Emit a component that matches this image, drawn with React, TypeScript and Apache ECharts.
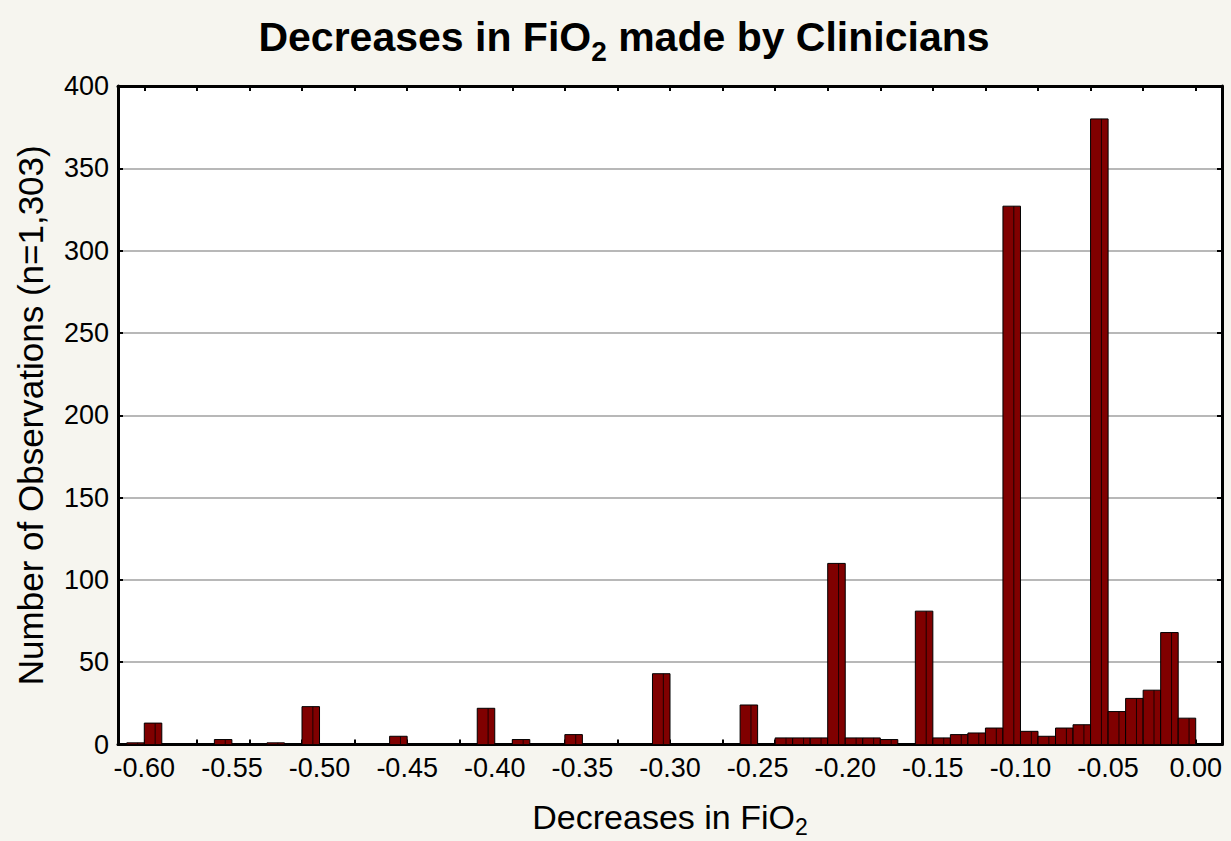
import React, { useEffect, useRef } from "react";
import * as echarts from "echarts";

// Histogram bins (left edge of each 0.01-wide bin) and their counts
const binLeft = [
  -0.61, -0.6, -0.56, -0.53, -0.51, -0.46, -0.41, -0.39, -0.36, -0.31,
  -0.26, -0.24, -0.23, -0.22, -0.21, -0.2, -0.19, -0.18, -0.16, -0.15,
  -0.14, -0.13, -0.12, -0.11, -0.1, -0.09, -0.08, -0.07, -0.06, -0.05,
  -0.04, -0.03, -0.02, -0.01,
];
const counts = [
  1, 13, 3, 1, 23, 5, 22, 3, 6, 43,
  24, 4, 4, 4, 110, 4, 4, 3, 81, 4,
  6, 7, 10, 327, 8, 5, 10, 12, 380, 20,
  28, 33, 68, 16,
];
const binWidth = 0.01;

const xMin = -0.615;
const xMax = 0.015;
const yMin = 0;
const yMax = 400;
const yStep = 50;

const titleText = "{a|Decreases in FiO}{s|2}{a| made by Clinicians}";
const xName = "{a|Decreases in FiO}{s|2}";
const yName = "Number of Observations (n=1,303)";

const FONT = "'Liberation Sans', Arial, Helvetica, sans-serif";

const frameLine = { show: true, onZero: false, lineStyle: { color: "#000", width: 3 } };
const innerTick = { show: true, inside: true, length: 5, lineStyle: { color: "#000", width: 2 } };

export default function App() {
  const ref = useRef<HTMLDivElement>(null);

  useEffect(() => {
    if (!ref.current) return;
    const chart = echarts.init(ref.current, null, { renderer: "svg" });
    const data = binLeft.map((l, i) => [l, l + binWidth, counts[i]]);

    const minorTickAxis = (position: "top" | "bottom", withLine: boolean) => ({
      type: "value",
      position,
      min: xMin,
      max: xMax,
      splitNumber: 21,
      minInterval: 0.03,
      maxInterval: 0.03,
      axisLine: withLine ? frameLine : { show: false, onZero: false },
      axisLabel: { show: false },
      splitLine: { show: false },
      axisTick: innerTick,
    });

    chart.setOption({
      animation: false,
      backgroundColor: "#F6F5EF",
      textStyle: { fontFamily: FONT },
      title: {
        text: titleText,
        left: 619,
        top: 4,
        textAlign: "center",
        textStyle: {
          rich: {
            a: { fontSize: 41, fontWeight: "bold", color: "#000", fontFamily: FONT, lineHeight: 56 },
            s: { fontSize: 28, fontWeight: "bold", color: "#000", fontFamily: FONT, lineHeight: 28, verticalAlign: "bottom" },
          },
        },
      },
      grid: {
        left: 118,
        top: 86,
        right: 9,
        bottom: 96.5,
        outerBoundsMode: "none",
        containLabel: false,
        show: true,
        backgroundColor: "#ffffff",
        borderWidth: 0,
      },
      xAxis: [
        {
          type: "value",
          min: xMin,
          max: xMax,
          splitNumber: 12,
          minInterval: 0.05,
          maxInterval: 0.05,
          axisLine: frameLine,
          axisTick: { show: false },
          splitLine: { show: false },
          axisLabel: {
            showMinLabel: false,
            showMaxLabel: false,
            fontSize: 27,
            color: "#000",
            margin: 10,
            formatter: (v: number) => (Math.abs(v) < 1e-9 ? 0 : v).toFixed(2),
          },
          name: xName,
          nameLocation: "middle",
          nameGap: 50,
          nameTextStyle: {
            rich: {
              a: { fontSize: 34, color: "#000", fontFamily: FONT, lineHeight: 44 },
              s: { fontSize: 23, color: "#000", fontFamily: FONT, lineHeight: 23, verticalAlign: "bottom" },
            },
          },
        },
        minorTickAxis("top", true),
        minorTickAxis("bottom", false),
      ],
      yAxis: [
        {
          type: "value",
          min: yMin,
          max: yMax,
          interval: yStep,
          axisLine: frameLine,
          axisTick: innerTick,
          splitLine: { show: true, lineStyle: { color: "#A0A0A0", width: 1.5 } },
          axisLabel: { fontSize: 27, color: "#000", margin: 9 },
          name: yName,
          nameLocation: "middle",
          nameGap: 70,
          nameTextStyle: { fontSize: 35, color: "#000", fontFamily: FONT },
        },
        {
          type: "value",
          position: "right",
          min: yMin,
          max: yMax,
          interval: yStep,
          axisLine: frameLine,
          axisLabel: { show: false },
          splitLine: { show: false },
          axisTick: innerTick,
        },
      ],
      series: [
        {
          type: "custom",
          xAxisIndex: 0,
          yAxisIndex: 0,
          clip: true,
          encode: { x: [0, 1], y: 2 },
          data,
          renderItem: (params: any, api: any) => {
            const x0 = api.value(0);
            const x1 = api.value(1);
            const y = api.value(2);
            const p0 = api.coord([x0, y]);
            const p1 = api.coord([x1, 0]);
            const w = p1[0] - p0[0];
            const h = p1[1] - p0[1];
            const xi = p0[0] + w * 0.62;
            return {
              type: "group",
              children: [
                {
                  type: "rect",
                  shape: { x: p0[0], y: p0[1], width: w, height: h },
                  style: { fill: "#800000", stroke: "#000", lineWidth: 1 },
                },
                {
                  type: "line",
                  shape: { x1: xi, y1: p0[1], x2: xi, y2: p1[1] },
                  style: { stroke: "#1a0000", lineWidth: 1 },
                },
              ],
            };
          },
        },
      ],
    });

    return () => chart.dispose();
  }, []);

  return (
    <div
      ref={ref}
      style={{ position: "fixed", left: 0, top: 0, width: 1231, height: 841 }}
    />
  );
}
